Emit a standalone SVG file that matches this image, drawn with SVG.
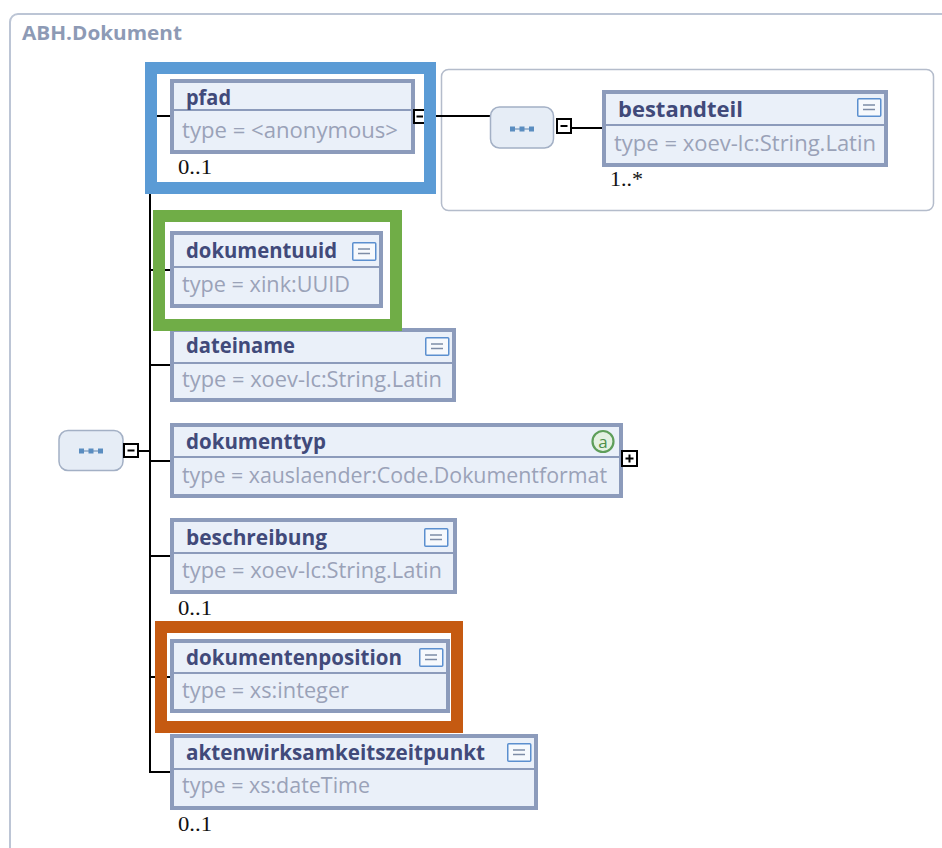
<svg xmlns="http://www.w3.org/2000/svg" width="942" height="848" viewBox="0 0 942 848">
  <style>
    .bg { fill: #ffffff; }
    .panel { fill: #ffffff; stroke: #bcc5d5; stroke-width: 2; }
    .subpanel { fill: #ffffff; stroke: #b4bccb; stroke-width: 1.5; }
    .box { fill: #eaf0f9; stroke: #8c9bbb; stroke-width: 4; }
    .sep { stroke: #8c9bbb; stroke-width: 2; }
    .name { font-family: "Open Sans", "Liberation Sans", sans-serif; font-weight: bold; font-size: 20.5px; fill: #414a7a; }
    .type { font-family: "Open Sans", "Liberation Sans", sans-serif; font-size: 21px; fill: #9aa2b8; }
    .title { font-family: "Open Sans", "Liberation Sans", sans-serif; font-weight: bold; font-size: 19px; fill: #8d9ab5; }
    .mult { font-family: "Liberation Serif", serif; font-size: 20px; fill: #111111; }
    .conn line { stroke: #000000; stroke-width: 2; }
    .toggle { fill: #ffffff; stroke: #000000; stroke-width: 2; }
    .sign { stroke: #000000; stroke-width: 2; }
    .seq { fill: #e6edf6; stroke: #a3b0c5; stroke-width: 1.5; }
    .dot { fill: #5a8dc0; }
    .dotline { stroke: #8aa6c6; stroke-width: 1.5; }
    .doc { fill: #f6f9fd; stroke: #5b8fcf; stroke-width: 1.5; }
    .docline { stroke: #7d8ca6; stroke-width: 1.5; }
    .hl { fill: none; stroke-width: 12; }
  </style>
  <defs>
    <!-- documentation icon -->
    <g id="docIcon">
      <rect class="doc" x="0.75" y="0.75" width="23" height="17.5" rx="1"/>
      <line class="docline" x1="6" y1="7" x2="18" y2="7"/>
      <line class="docline" x1="6" y1="11.5" x2="18" y2="11.5"/>
    </g>
    <!-- sequence compositor -->
    <g id="seqIcon">
      <line class="dotline" x1="-10" y1="0" x2="10" y2="0"/>
      <rect class="dot" x="-12" y="-2.5" width="5" height="5"/>
      <rect class="dot" x="-2.5" y="-2.5" width="5" height="5"/>
      <rect class="dot" x="7" y="-2.5" width="5" height="5"/>
    </g>
  </defs>

  <rect class="bg" x="0" y="0" width="942" height="848"/>

  <!-- outer complex type panel -->
  <g id="panel-abh-dokument">
    <rect class="panel" x="10" y="14" width="960" height="860" rx="8"/>
    <text class="title" x="22" y="40" textLength="160" lengthAdjust="spacingAndGlyphs">ABH.Dokument</text>
  </g>

  <!-- inner panel for the anonymous type of pfad -->
  <g id="panel-pfad-type">
    <rect class="subpanel" x="441.5" y="69.5" width="492" height="141" rx="7"/>
  </g>

  <!-- connectors -->
  <g id="connectors" class="conn">
    <line x1="150" y1="115" x2="150" y2="773"/>
    <line x1="139" y1="451" x2="151" y2="451"/>
    <line x1="149" y1="116" x2="172" y2="116"/>
    <line x1="149" y1="270" x2="172" y2="270"/>
    <line x1="149" y1="365" x2="172" y2="365"/>
    <line x1="149" y1="461" x2="172" y2="461"/>
    <line x1="149" y1="556" x2="172" y2="556"/>
    <line x1="149" y1="677" x2="172" y2="677"/>
    <line x1="149" y1="772" x2="172" y2="772"/>
    <line x1="425" y1="116" x2="491" y2="116"/>
    <line x1="571" y1="128" x2="604" y2="128"/>
  </g>

  <!-- root sequence -->
  <g id="seq-root">
    <rect class="seq" x="59" y="430.5" width="64" height="40" rx="9"/>
    <use href="#seqIcon" x="91" y="451"/>
    <rect class="toggle" x="124" y="444" width="14" height="13"/>
    <line class="sign" x1="127.5" y1="450.5" x2="134.5" y2="450.5"/>
  </g>

  <!-- sequence inside pfad -->
  <g id="seq-pfad">
    <rect class="seq" x="490.5" y="107" width="63" height="41" rx="9"/>
    <use href="#seqIcon" x="522" y="129"/>
    <rect class="toggle" x="557" y="119" width="14" height="14"/>
    <line class="sign" x1="560.5" y1="126" x2="567.5" y2="126"/>
  </g>

  <g id="node-pfad">
    <rect class="box" x="172" y="81" width="241" height="71"/>
    <line class="sep" x1="172" y1="110" x2="413" y2="110"/>
    <text class="name" x="186" y="105" textLength="45" lengthAdjust="spacingAndGlyphs">pfad</text>
    <text class="type" x="182" y="138" textLength="216" lengthAdjust="spacingAndGlyphs">type = &lt;anonymous&gt;</text>
    <rect class="toggle" x="414" y="110" width="12" height="13"/>
    <line class="sign" x1="416.5" y1="116.5" x2="423" y2="116.5"/>
    <text class="mult" x="178" y="174" textLength="34" lengthAdjust="spacingAndGlyphs">0..1</text>
  </g>

  <g id="node-bestandteil">
    <rect class="box" x="604" y="92" width="282" height="73"/>
    <line class="sep" x1="604" y1="125" x2="886" y2="125"/>
    <text class="name" x="618" y="117" textLength="125" lengthAdjust="spacingAndGlyphs">bestandteil</text>
    <text class="type" x="614" y="151" textLength="262" lengthAdjust="spacingAndGlyphs">type = xoev-lc:String.Latin</text>
    <use href="#docIcon" x="857" y="98"/>
    <text class="mult" x="610" y="186" textLength="33" lengthAdjust="spacingAndGlyphs">1..*</text>
  </g>

  <g id="node-dokumentuuid">
    <rect class="box" x="172" y="233" width="209" height="73"/>
    <line class="sep" x1="172" y1="267" x2="381" y2="267"/>
    <text class="name" x="186" y="258" textLength="151" lengthAdjust="spacingAndGlyphs">dokumentuuid</text>
    <text class="type" x="182" y="292" textLength="168" lengthAdjust="spacingAndGlyphs">type = xink:UUID</text>
    <use href="#docIcon" x="352" y="242"/>
  </g>

  <g id="node-dateiname">
    <rect class="box" x="172" y="330" width="282" height="70"/>
    <line class="sep" x1="172" y1="363" x2="454" y2="363"/>
    <text class="name" x="186" y="353" textLength="109" lengthAdjust="spacingAndGlyphs">dateiname</text>
    <text class="type" x="182" y="387" textLength="260" lengthAdjust="spacingAndGlyphs">type = xoev-lc:String.Latin</text>
    <use href="#docIcon" x="425" y="337"/>
  </g>

  <g id="node-dokumenttyp">
    <rect class="box" x="172" y="425" width="449" height="71"/>
    <line class="sep" x1="172" y1="457" x2="621" y2="457"/>
    <text class="name" x="186" y="449" textLength="140" lengthAdjust="spacingAndGlyphs">dokumenttyp</text>
    <text class="type" x="182" y="483" textLength="425" lengthAdjust="spacingAndGlyphs">type = xauslaender:Code.Dokumentformat</text>
    <circle cx="603" cy="441.5" r="10.5" fill="#e4f1e2" stroke="#5e9e5a" stroke-width="2.2"/>
    <text x="603" y="447.5" text-anchor="middle" font-family="Open Sans, Liberation Sans, sans-serif" font-size="17" fill="#4f8f4a">a</text>
    <rect class="toggle" x="622" y="451" width="15" height="15"/>
    <line class="sign" x1="625.5" y1="458.5" x2="633.5" y2="458.5"/>
    <line class="sign" x1="629.5" y1="454.5" x2="629.5" y2="462.5"/>
  </g>

  <g id="node-beschreibung">
    <rect class="box" x="172" y="520" width="283" height="72"/>
    <line class="sep" x1="172" y1="553" x2="455" y2="553"/>
    <text class="name" x="186" y="545" textLength="141" lengthAdjust="spacingAndGlyphs">beschreibung</text>
    <text class="type" x="182" y="578" textLength="260" lengthAdjust="spacingAndGlyphs">type = xoev-lc:String.Latin</text>
    <use href="#docIcon" x="424" y="528"/>
    <text class="mult" x="178" y="615" textLength="34" lengthAdjust="spacingAndGlyphs">0..1</text>
  </g>

  <g id="node-dokumentenposition">
    <rect class="box" x="172" y="641" width="276" height="70"/>
    <line class="sep" x1="172" y1="673" x2="448" y2="673"/>
    <text class="name" x="186" y="665" textLength="216" lengthAdjust="spacingAndGlyphs">dokumentenposition</text>
    <text class="type" x="182" y="698" textLength="167" lengthAdjust="spacingAndGlyphs">type = xs:integer</text>
    <use href="#docIcon" x="419" y="648"/>
  </g>

  <g id="node-aktenwirksamkeitszeitpunkt">
    <rect class="box" x="172" y="736" width="364" height="72"/>
    <line class="sep" x1="172" y1="769" x2="536" y2="769"/>
    <text class="name" x="186" y="760" textLength="299" lengthAdjust="spacingAndGlyphs">aktenwirksamkeitszeitpunkt</text>
    <text class="type" x="182" y="793" textLength="188" lengthAdjust="spacingAndGlyphs">type = xs:dateTime</text>
    <use href="#docIcon" x="507" y="743"/>
    <text class="mult" x="178" y="831" textLength="34" lengthAdjust="spacingAndGlyphs">0..1</text>
  </g>

  <!-- highlight frames -->
  <g id="highlights">
    <rect class="hl" x="151" y="68" width="279" height="120" stroke="#5b9bd5"/>
    <rect class="hl" x="159" y="216" width="237" height="109" stroke="#70ad47"/>
    <rect class="hl" x="161" y="627" width="296" height="100" stroke="#c55a11"/>
  </g>
</svg>
